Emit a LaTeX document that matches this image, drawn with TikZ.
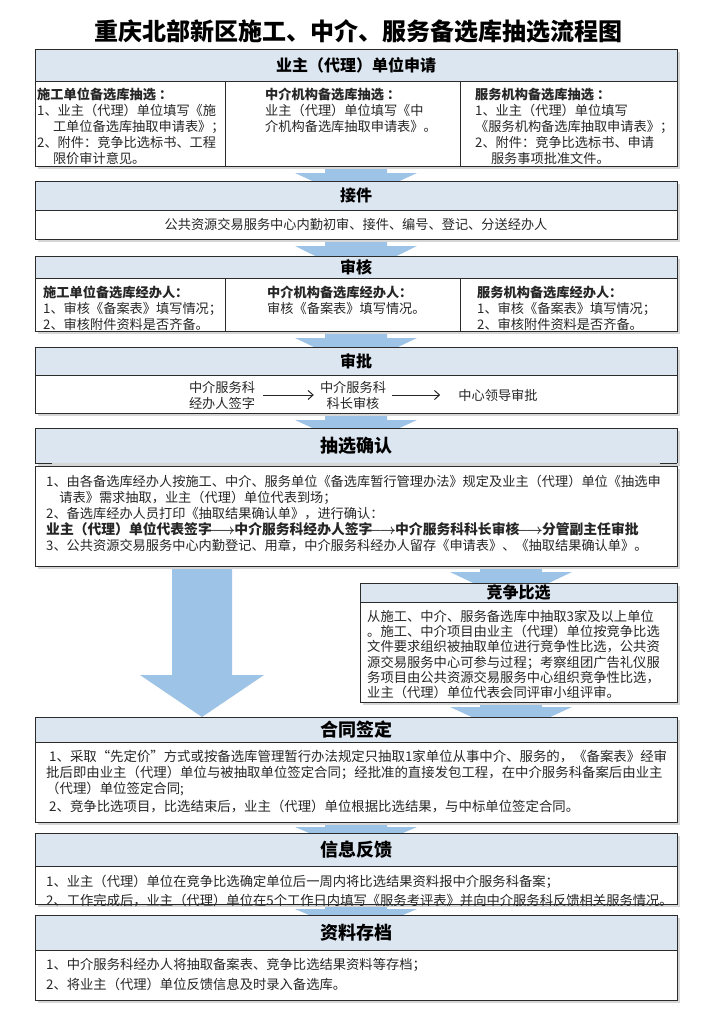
\documentclass[tikz,border=0pt]{standalone}
\usepackage{fontspec}
\setmainfont{Noto Sans CJK SC}
\usepackage{tikz}
\usetikzlibrary{positioning,calc,backgrounds,shadows,arrows.meta}
\definecolor{hdrfill}{HTML}{DCE6F1}
\definecolor{flowblue}{HTML}{9DC3E6}
\definecolor{boxline}{HTML}{2B2B2B}
\definecolor{shadowgray}{HTML}{D6D6D6}
\definecolor{textgray}{HTML}{262626}

\newcommand{\bodyfont}{\fontsize{13.2}{16}\selectfont}
\newcommand{\hdrbig}{\bfseries\fontsize{18}{18}\selectfont}
\newcommand{\arr}{\kern-3pt{\boldmath$\longrightarrow$}\kern-1pt}
% fat arrow: start, tip, shaft half width, head half width, shaft length
\newcommand{\flowarrow}[5]{%
  \fill[flowfill] let \p1=(#1), \p2=(#2) in
    (\x1-#3,\y1+2pt) -- (\x1+#3,\y1+2pt) -- (\x1+#3,\y1-#5) -- (\x1+#4,\y1-#5)
    -- (\x2,\y2) -- (\x1-#4,\y1-#5) -- (\x1-#3,\y1-#5) -- cycle;}

\begin{document}
\begin{tikzpicture}[x=1pt,y=-1pt,
    title/.style={font=\bfseries\fontsize{24}{24}\selectfont, inner sep=0pt},
    hdr/.style={draw=boxline, line width=1pt, fill=hdrfill, minimum width=642pt,
                inner sep=0pt, outer sep=0pt, font=\bfseries\fontsize{16}{16}\selectfont,
                drop shadow={shadow xshift=3pt,shadow yshift=-3pt,fill=shadowgray,opacity=1}},
    bodybox/.style={draw=boxline, line width=1pt, fill=white, minimum width=642pt,
                inner sep=0pt, outer sep=0pt, font=\bodyfont, text=textgray,
                drop shadow={shadow xshift=3pt,shadow yshift=-3pt,fill=shadowgray,opacity=1}},
    boxedge/.style={draw=boxline, line width=1pt},
    txt/.style={anchor=north west, align=left, inner sep=0pt, font=\bodyfont, text=textgray},
    stage/.style={align=center, inner sep=0pt, font=\bodyfont, text=textgray},
    flowfill/.style={fill=flowblue},
    link/.style={draw=textgray, line width=1pt, -{Straight Barb[length=5pt,width=9pt]}},
]
\useasboundingbox (0,0) rectangle (720,1009);

\node[title] (ttl) at (358,31) {重庆北部新区施工、中介、服务备选库抽选流程图};

\coordinate (d1) at (225,0);
\coordinate (d2) at (460,0);

\node[hdr, minimum height=32pt, anchor=north] (h1) at (356,49) {业主（代理）单位申请};
\node[bodybox, minimum height=85pt, below=0pt of h1] (b1) {};
\draw[boxedge] (d1 |- b1.north) -- (d1 |- b1.south);
\draw[boxedge] (d2 |- b1.north) -- (d2 |- b1.south);
\node[txt] (t1a) at ($(b1.north west)+(2,7)$) {\textbf{施工单位备选库抽选 ：}\\
  1、业主（代理）单位填写《施\\ \hspace*{1.2em}工单位备选库抽取申请表》；\\
  2、附件：竞争比选标书、工程\\ \hspace*{1.2em}限价审计意见。};
\node[txt] (t1b) at ($(b1.north -| d1)+(40,7)$) {\textbf{中介机构备选库抽选 ：}\\
  业主（代理）单位填写《中\\ 介机构备选库抽取申请表》。};
\node[txt] (t1c) at ($(b1.north -| d2)+(15,7)$) {\textbf{服务机构备选库抽选 ：}\\
  1、业主（代理）单位填写\\ 《服务机构备选库抽取申请表》；\\
  2、附件：竞争比选标书、申请\\ \hspace*{1.2em}服务事项批准文件。};

\node[hdr, minimum height=29pt, anchor=north] (h2) at (356,181) {接件};
\node[bodybox, minimum height=29pt, below=0pt of h2] (b2)
  {公共资源交易服务中心内勤初审、接件、编号、登记、分送经办人};

\node[hdr, minimum height=22pt, anchor=north] (h3) at (356,256) {审核};
\node[bodybox, minimum height=53pt, below=0pt of h3] (b3) {};
\draw[boxedge] (d1 |- b3.north) -- (d1 |- b3.south);
\draw[boxedge] (d2 |- b3.north) -- (d2 |- b3.south);
\node[txt] (t3a) at ($(b3.north west)+(8,8)$) {\textbf{施工单位备选库经办人：}\\
  1、审核《备案表》填写情况；\\ 2、审核附件资料是否齐备。};
\node[txt] (t3b) at ($(b3.north -| d1)+(42,8)$) {\textbf{中介机构备选库经办人：}\\
  审核《备案表》填写情况。};
\node[txt] (t3c) at ($(b3.north -| d2)+(17,8)$) {\textbf{服务机构备选库经办人：}\\
  1、审核《备案表》填写情况；\\ 2、审核附件资料是否齐备。};

\node[hdr, minimum height=28pt, anchor=north] (h4) at (356,347) {审批};
\node[bodybox, minimum height=38pt, below=0pt of h4] (b4) {};
\node[stage] (s1) at (222,395) {中介服务科\\经办人签字};
\node[stage] (s2) at (353,395) {中介服务科\\科长审核};
\node[stage] (s3) at (498,395) {中心领导审批};
\draw[link] ([xshift=8pt]s1.east) -- ([xshift=-6pt]s2.west);
\draw[link] ([xshift=6pt]s2.east) -- ([xshift=-18pt]s3.west);

\node[hdr, draw=none, minimum height=35pt, anchor=north, font=\hdrbig] (h5) at (356,428) {抽选确认};
\draw[boxedge] (h5.south west) -- (h5.north west) -- (h5.north east) -- (h5.south east);
\draw[boxedge] (h5.south west) -- ++(17,0);
\draw[boxedge] (h5.south east) -- ++(-17,0);
\node[bodybox, minimum height=100pt, below=3pt of h5] (b5) {};
\node[txt] (t5) at ($(b5.north west)+(11,9)$) {%
  1、由各备选库经办人按施工、中介、服务单位《备选库暂行管理办法》规定及业主（代理）单位《抽选申\\
  \hspace*{1em}请表》需求抽取，业主（代理）单位代表到场；\\
  2、备选库经办人员打印《抽取结果确认单》，进行确认：\\
  {\fontsize{13.8}{16}\selectfont\bfseries 业主（代理）单位代表签字\arr 中介服务科经办人签字\arr 中介服务科科长审核\arr 分管副主任审批}\\
  3、公共资源交易服务中心内勤登记、用章，中介服务科经办人留存《申请表》、《抽取结果确认单》。};

\node[hdr, minimum width=317pt, minimum height=19pt, anchor=north west] (hc) at (360,583) {竞争比选};
\node[bodybox, minimum width=317pt, minimum height=100pt, below=0pt of hc] (bc) {};
\node[txt, font=\fontsize{13.3}{15.2}\selectfont] (tc) at ($(bc.north west)+(7,8)$) {%
  从施工、中介、服务备选库中抽取3家及以上单位\\
  。施工、中介项目由业主（代理）单位按竞争比选\\
  文件要求组织被抽取单位进行竞争性比选，公共资\\
  源交易服务中心可参与过程；考察组团广告礼仪服\\
  务项目由公共资源交易服务中心组织竞争性比选，\\
  业主（代理）单位代表会同评审小组评审。};

\node[hdr, minimum height=25pt, anchor=north, font=\hdrbig] (h6) at (356,717) {合同签定};
\node[bodybox, minimum height=80pt, below=0pt of h6] (b6) {};
\node[txt, font=\fontsize{13.4}{16}\selectfont] (t6) at ($(b6.north west)+(11,8)$) {%
  \hspace*{3pt}1、采取“先定价”方式或按备选库管理暂行办法规定只抽取1家单位从事中介、服务的，《备案表》经审\\
  批后即由业主（代理）单位与被抽取单位签定合同；经批准的直接发包工程，在中介服务科备案后由业主\\
  （代理）单位签定合同;\\[2pt]
  \hspace*{3pt}2、竞争比选项目，比选结束后，业主（代理）单位根据比选结果，与中标单位签定合同。};

\node[hdr, minimum height=33pt, anchor=north, font=\hdrbig] (h7) at (356,833) {信息反馈};
\node[bodybox, minimum height=38pt, below=0pt of h7] (b7) {};
\node[txt, font=\fontsize{13.3}{19}\selectfont] (t7) at ($(b7.north west)+(11,9)$) {%
  1、业主（代理）单位在竞争比选确定单位后一周内将比选结果资料报中介服务科备案；\\
  2、工作完成后，业主（代理）单位在5个工作日内填写《服务考评表》并向中介服务科反馈相关服务情况。};

\node[hdr, minimum height=35pt, anchor=north, font=\hdrbig] (h8) at (356,915) {资料存档};
\node[bodybox, minimum height=50pt, below=0pt of h8] (b8) {};
\node[txt, font=\fontsize{13.3}{20}\selectfont] (t8) at ($(b8.north west)+(11,8)$) {%
  1、中介服务科经办人将抽取备案表、竞争比选结果资料等存档；\\
  2、将业主（代理）单位反馈信息及时录入备选库。};

\coordinate (lft) at (202,0);
\coordinate (rgt) at (511,0);
\begin{scope}[on background layer]
\flowarrow{b1.south}{$(h2.north)+(0,20)$}{31pt}{61pt}{7pt}
\flowarrow{b2.south}{$(h3.north)+(0,20)$}{31pt}{61pt}{7pt}
\flowarrow{b3.south}{$(h4.north)+(0,20)$}{31pt}{61pt}{7pt}
\flowarrow{b4.south}{$(h5.north)+(0,20)$}{31pt}{61pt}{7pt}
\flowarrow{lft |- b5.south}{lft |- h6.north}{30pt}{62pt}{109pt}
\flowarrow{rgt |- b5.south}{$(rgt |- hc.north)+(0,18)$}{31pt}{61pt}{6pt}
\flowarrow{rgt |- bc.south}{$(rgt |- h6.north)+(0,18)$}{31pt}{61pt}{5pt}
\flowarrow{b6.south}{$(h7.north)+(0,20)$}{31pt}{61pt}{5pt}
\flowarrow{b7.south}{$(h8.north)+(0,20)$}{31pt}{61pt}{5pt}
\end{scope}
\end{tikzpicture}
\end{document}
